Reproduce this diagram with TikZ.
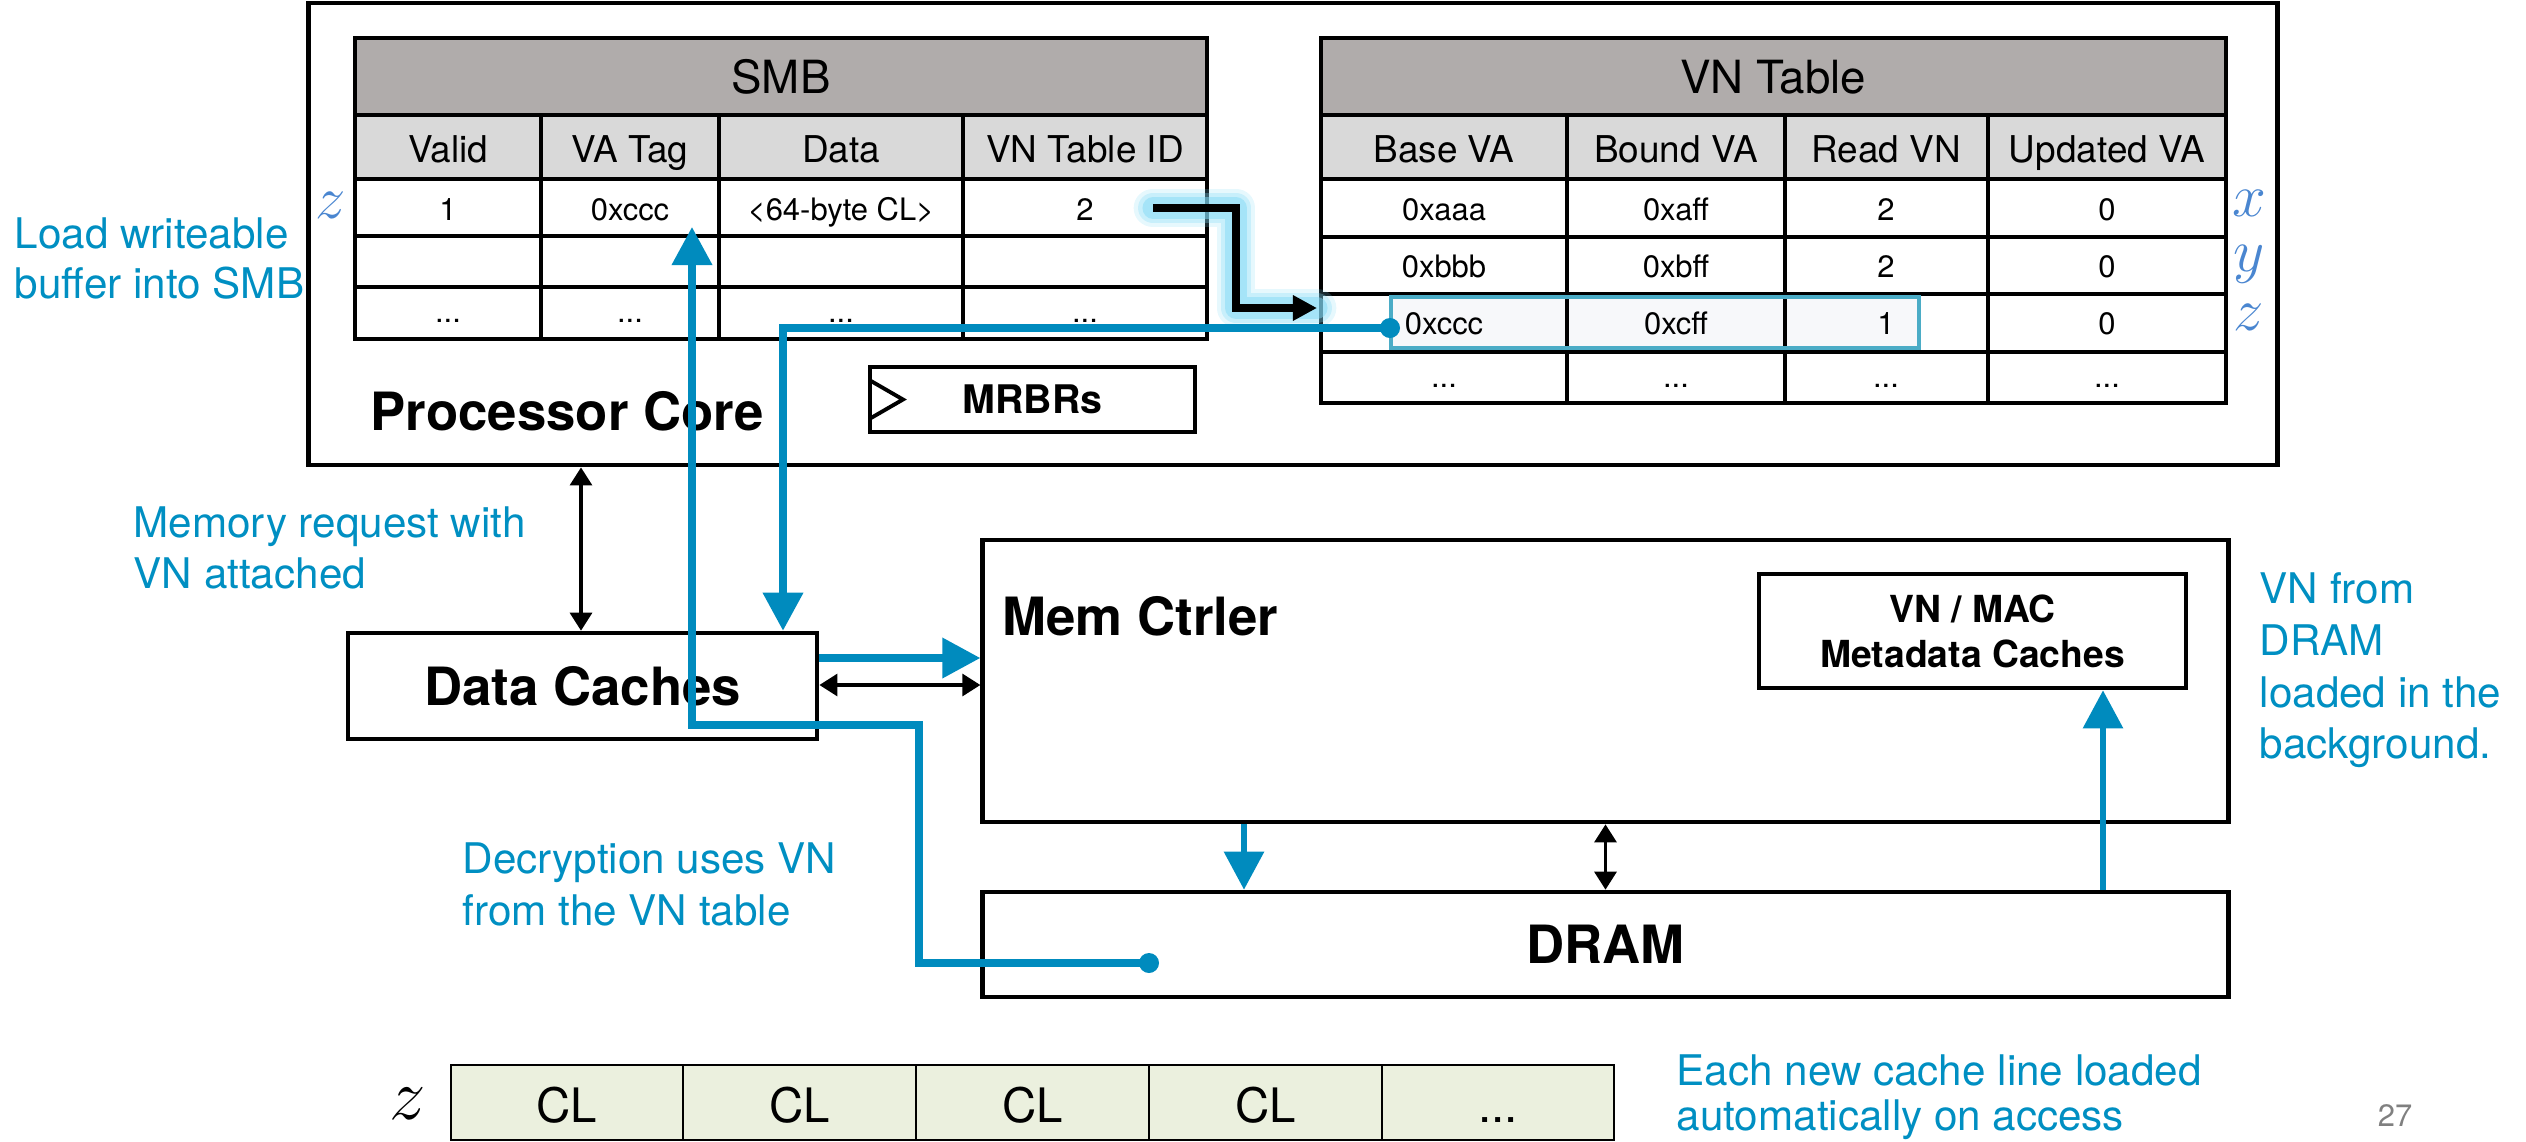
\documentclass[tikz,border=0pt]{standalone}
\usepackage{fontspec}
\setmainfont{TeX Gyre Heros}
\usetikzlibrary{arrows.meta}
\definecolor{flow}{RGB}{0,139,190}
\definecolor{note}{RGB}{0,143,194}
\definecolor{zlab}{RGB}{74,134,208}
\definecolor{hdrgray}{RGB}{176,172,171}
\definecolor{subgray}{RGB}{217,217,217}
\definecolor{clfill}{RGB}{235,240,222}
\definecolor{hilite}{RGB}{75,172,198}
\definecolor{hilitefill}{RGB}{247,248,250}
\definecolor{glowc}{RGB}{130,218,245}
\definecolor{pagegray}{RGB}{128,128,128}
\begin{document}
\begin{tikzpicture}[x=0.01cm,y=-0.01cm,
  box/.style={draw,line width=1.3pt,inner sep=0pt},
  bigbold/.style={font=\fontsize{15}{18}\selectfont\bfseries},
  hdrtxt/.style={anchor=base,inner sep=0pt,font=\fontsize{13}{15}\selectfont},
  subtxt/.style={anchor=base,inner sep=0pt,font=\fontsize{10.5}{12}\selectfont},
  celltxt/.style={anchor=base,inner sep=0pt,font=\fontsize{8.8}{10}\selectfont},
  cltxt/.style={anchor=base,inner sep=0pt,font=\fontsize{13.5}{15}\selectfont},
  notetxt/.style={anchor=base west,inner sep=0pt,text=note,font=\fontsize{12}{14}\selectfont},
  zmark/.style={inner sep=0pt,text=zlab,font=\fontsize{17}{19}\selectfont},
  gridline/.style={line width=0.9pt},
  flowline/.style={draw=flow,line width=2pt},
  flowarrow/.style={draw=flow,line width=2pt,-{Triangle[length=3.8mm,width=3.9mm]}},
  dbl/.style={line width=0.9pt,{Triangle[length=1.8mm,width=2.2mm]}-{Triangle[length=1.8mm,width=2.2mm]}},
]
\useasboundingbox (0,0) rectangle (2526,1142);

% ---------- Processor core ----------
\node[box,minimum width=19.68cm,minimum height=4.62cm] (proc) at (1293,234) {};
\node[bigbold,anchor=base west,inner sep=0pt] (procT) at (370,430) {Processor Core};

% ---------- SMB table ----------
\fill[hdrgray] (355,38) rectangle (1207,115);
\fill[subgray] (355,115) rectangle (1207,179);
\draw[gridline] (355,38) rectangle (1207,339);
\foreach \yy in {115,179,236,287} \draw[gridline] (355,\yy) -- (1207,\yy);
\foreach \xx in {541,719,963} \draw[gridline] (\xx,115) -- (\xx,339);
\node[hdrtxt] (smbT) at (781,93) {SMB};
\node[subtxt] (smbA) at (448,162) {Valid};
\node[subtxt] (smbB) at (630,162) {VA Tag};
\node[subtxt] (smbC) at (841,162) {Data};
\node[subtxt] (smbD) at (1085,162) {VN Table ID};
\node[celltxt] (s1a) at (448,220) {1};
\node[celltxt] (s1b) at (630,220) {0xccc};
\node[celltxt] (s1c) at (841,220) {\textless 64-byte CL\textgreater};
\node[celltxt] (s1d) at (1085,220) {2};
\node[celltxt] (s3a) at (448,322) {...};
\node[celltxt] (s3b) at (630,322) {...};
\node[celltxt] (s3c) at (841,322) {...};
\node[celltxt] (s3d) at (1085,322) {...};
\node[zmark] (zl) at (331,205) {$z$};

% ---------- VN table ----------
\fill[hdrgray] (1321,38) rectangle (2226,115);
\fill[subgray] (1321,115) rectangle (2226,179);
\fill[hilitefill] (1391,297) rectangle (1919,348);
\draw[gridline] (1321,38) rectangle (2226,403);
\foreach \yy in {115,179,237,294,352} \draw[gridline] (1321,\yy) -- (2226,\yy);
\foreach \xx in {1567,1785,1988} \draw[gridline] (\xx,115) -- (\xx,403);
\draw[hilite,line width=1.2pt] (1391,297) rectangle (1919,348);
\node[hdrtxt] (vnT) at (1773,93) {VN Table};
\node[subtxt] (vnA) at (1444,162) {Base VA};
\node[subtxt] (vnB) at (1676,162) {Bound VA};
\node[subtxt] (vnC) at (1886,162) {Read VN};
\node[subtxt] (vnD) at (2107,162) {Updated VA};
\node[celltxt] (v1a) at (1444,220) {0xaaa};
\node[celltxt] (v1b) at (1676,220) {0xaff};
\node[celltxt] (v1c) at (1886,220) {2};
\node[celltxt] (v1d) at (2107,220) {0};
\node[celltxt] (v2a) at (1444,277) {0xbbb};
\node[celltxt] (v2b) at (1676,277) {0xbff};
\node[celltxt] (v2c) at (1886,277) {2};
\node[celltxt] (v2d) at (2107,277) {0};
\node[celltxt] (v3a) at (1444,334) {0xccc};
\node[celltxt] (v3b) at (1676,334) {0xcff};
\node[celltxt] (v3c) at (1886,334) {1};
\node[celltxt] (v3d) at (2107,334) {0};
\node[celltxt] (v4a) at (1444,387) {...};
\node[celltxt] (v4b) at (1676,387) {...};
\node[celltxt] (v4c) at (1886,387) {...};
\node[celltxt] (v4d) at (2107,387) {...};
\node[zmark] (zx) at (2249,203) {$x$};
\node[zmark] (zy) at (2249,264) {$y$};
\node[zmark] (zz) at (2249,317) {$z$};

% ---------- MRBRs ----------
\node[box,minimum width=3.25cm,minimum height=0.65cm,font=\fontsize{11.2}{13}\selectfont\bfseries] (mrbr) at (1032.5,399.5) {MRBRs};
\draw[line width=1.1pt,line join=miter] (871,381) -- (903,399.5) -- (871,418);

% ---------- lower boxes ----------
\node[box,minimum width=4.69cm,minimum height=1.06cm,bigbold] (dc) at (582.5,686) {Data Caches};
\node[box,minimum width=12.45cm,minimum height=2.82cm] (mc) at (1605.5,681) {};
\node[bigbold,anchor=base west,inner sep=0pt] (mcT) at (1002,635) {Mem Ctrler};
\node[box,minimum width=4.27cm,minimum height=1.14cm,align=center,font=\fontsize{10.6}{12.8}\selectfont\bfseries] (meta) at (1972.5,631) {VN / MAC\\Metadata Caches};
\node[box,minimum width=12.45cm,minimum height=1.05cm,bigbold] (dram) at (1605.5,944.5) {DRAM};

% ---------- black connectors ----------
\coordinate (xpc) at (581,0);
\draw[dbl] (proc.south -| xpc) -- (dc.north -| xpc);
\coordinate (ya) at (0,658);
\coordinate (yb) at (0,685);
\draw[dbl] (dc.east |- yb) -- (mc.west |- yb);
\draw[dbl] (mc.south) -- (dram.north);

% ---------- blue connectors ----------
\draw[flowarrow] (dc.east |- ya) -- (mc.west |- ya);
\coordinate (xm) at (1244,0);
\draw[flowarrow,line width=1.7pt] (mc.south -| xm) -- (dram.north -| xm);
\coordinate (xr) at (2103,0);
\draw[flowarrow,line width=1.7pt] (dram.north -| xr) -- (meta.south -| xr);

% glow arrow SMB -> VN table
\coordinate (idOut) at (1153,208);
\coordinate (xk) at (1236,0);
\coordinate (vnRow) at (1317,308);
\foreach \w/\o in {11pt/0.2,8.5pt/0.3,6pt/0.5} {
  \draw[glowc,opacity=\o,line width=\w,line join=round,line cap=round]
    (idOut) -- (idOut -| xk) -- (xk |- vnRow) -- (vnRow);
}
\draw[line width=2.3pt,-{Triangle[length=2.4mm,width=2.4mm]}]
  (idOut) -- (idOut -| xk) -- (xk |- vnRow) -- (vnRow);

% VN table -> data caches
\coordinate (vnDot) at (1390,328);
\coordinate (xv) at (783,0);
\draw[flowarrow] (vnDot) -- (vnDot -| xv) -- (dc.north -| xv);
\fill[flow] (vnDot) circle[radius=1mm];

% DRAM -> SMB VA tag
\coordinate (dramDot) at (1149,963);
\coordinate (xd1) at (919,0);
\coordinate (yd) at (0,725);
\coordinate (xd2) at (692,0);
\coordinate (tagIn) at (692,227);
\draw[flowarrow] (dramDot) -- (dramDot -| xd1) -- (xd1 |- yd) -- (xd2 |- yd) -- (tagIn);
\fill[flow] (dramDot) circle[radius=1mm];

% ---------- annotations ----------
\node[notetxt] (n1a) at (14,248) {Load writeable};
\node[notetxt] (n1b) at (14,298) {buffer into SMB};
\node[notetxt] (n2a) at (133,537) {Memory request with};
\node[notetxt] (n2b) at (133,588) {VN attached};
\node[notetxt] (n3a) at (462,873) {Decryption uses VN};
\node[notetxt] (n3b) at (462,925) {from the VN table};
\node[notetxt] (n4a) at (2259,603) {VN from};
\node[notetxt] (n4b) at (2259,655) {DRAM};
\node[notetxt] (n4c) at (2259,707) {loaded in the};
\node[notetxt] (n4d) at (2259,758) {background.};
\node[notetxt] (n5a) at (1676,1085) {Each new cache line loaded};
\node[notetxt] (n5b) at (1676,1130) {automatically on access};
\node[inner sep=0pt,text=pagegray,font=\fontsize{8.8}{10}\selectfont] (pg) at (2395,1116) {27};

% ---------- cache line row ----------
\fill[clfill] (451,1065) rectangle (1614,1140);
\draw[line width=0.8pt] (451,1065) rectangle (1614,1140);
\foreach \xx in {683,916,1149,1382} \draw[line width=0.8pt] (\xx,1065) -- (\xx,1140);
\node[cltxt] (cl1) at (567,1122) {CL};
\node[cltxt] (cl2) at (799.5,1122) {CL};
\node[cltxt] (cl3) at (1032.5,1122) {CL};
\node[cltxt] (cl4) at (1265.5,1122) {CL};
\node[cltxt] (cl5) at (1498,1122) {...};
\node[inner sep=0pt,font=\fontsize{20}{22}\selectfont] (zb) at (408,1104) {$z$};
\end{tikzpicture}
\end{document}
